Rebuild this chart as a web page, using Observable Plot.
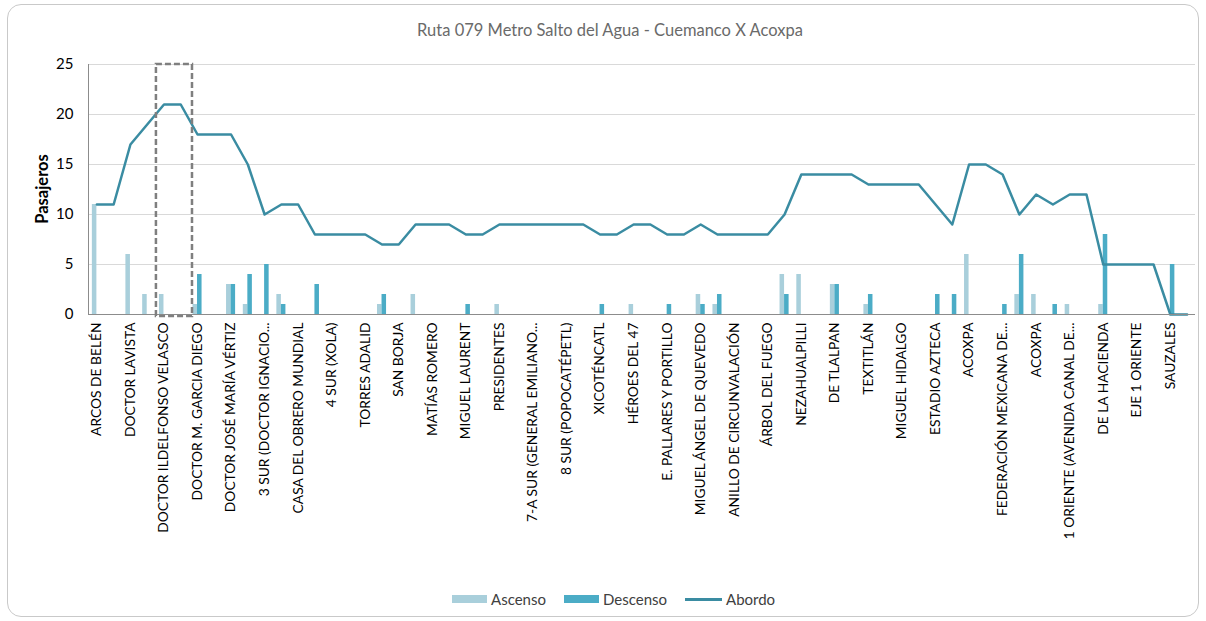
<!DOCTYPE html>
<html>
<head>
<meta charset="utf-8">
<script src="https://cdn.jsdelivr.net/npm/d3@7"></script>
<script src="https://cdn.jsdelivr.net/npm/@observablehq/plot@0.6"></script>
<style>
  body { margin: 0; width: 1206px; height: 621px; overflow: hidden; background: #fff; font-family: "Lato", "Open Sans", sans-serif; position: relative; }
  #frame { position: absolute; left: 7px; top: 4px; width: 1192px; height: 613px; border: 1px solid #c9c9c9; border-radius: 14px; box-sizing: border-box; }
  #title { position: absolute; top: 20px; left: 0; width: 1220px; text-align: center; font-size: 16.5px; color: #6a6a6a; }
  #chart { position: absolute; left: 0; top: 45px; }
  #ylabel { position: absolute; left: 42px; top: 189px; transform: translate(-50%, -50%) rotate(-90deg); font-size: 16.5px; font-weight: bold; color: #000; white-space: nowrap; }
  #legend { position: absolute; left: 452px; top: 590px; display: flex; align-items: center; font-size: 15px; color: #404040; }
  .sw { display: inline-block; width: 35px; height: 8px; margin-right: 4px; }
  .ln { display: inline-block; width: 37px; height: 3px; margin-right: 4px; }
  .item { display: flex; align-items: center; margin-right: 18px; }
  #chart svg [aria-label^="y-axis"] text { font-size: 15px; }
</style>
</head>
<body>
<div id="frame"></div>
<div id="title">Ruta 079 Metro Salto del Agua - Cuemanco X Acoxpa</div>
<div id="chart"></div>
<div id="ylabel">Pasajeros</div>
<div id="legend"></div>
<script>
// Stop labels shown on the axis (every other stop is labelled)
const tickLabels = [
  "ARCOS DE BELÉN", "DOCTOR LAVISTA", "DOCTOR ILDELFONSO VELASCO", "DOCTOR M. GARCIA DIEGO",
  "DOCTOR JOSÉ MARÍA VÉRTIZ", "3 SUR (DOCTOR IGNACIO...", "CASA DEL OBRERO MUNDIAL", "4 SUR (XOLA)",
  "TORRES ADALID", "SAN BORJA", "MATÍAS ROMERO", "MIGUEL LAURENT", "PRESIDENTES",
  "7-A SUR (GENERAL EMILIANO...", "8 SUR (POPOCATÉPETL)", "XICOTÉNCATL", "HÉROES DEL 47",
  "E. PALLARES Y PORTILLO", "MIGUEL ÁNGEL DE QUEVEDO", "ANILLO DE CIRCUNVALACIÓN", "ÁRBOL DEL FUEGO",
  "NEZAHUALPILLI", "DE TLALPAN", "TEXTITLÁN", "MIGUEL HIDALGO", "ESTADIO AZTECA", "ACOXPA",
  "FEDERACIÓN MEXICANA DE...", "ACOXPA", "1 ORIENTE (AVENIDA CANAL DE...", "DE LA HACIENDA",
  "EJE 1 ORIENTE", "SAUZALES"
];
// Stop index (0..65), one per stop along the route
const stops = d3.range(66);
const ascenso = [11,0,6,2,2,0,1,0,3,1,0,2,0,0,0,0,0,1,0,2,0,0,0,0,1,0,0,0,0,0,0,0,1,0,0,0,2,1,0,0,0,4,4,0,3,0,1,0,0,0,0,0,6,0,0,2,2,0,1,0,1,0,0,0,0,0];
const descenso = [0,0,0,0,0,0,4,0,3,4,5,1,0,3,0,0,0,2,0,0,0,0,1,0,0,0,0,0,0,0,1,0,0,0,1,0,1,2,0,0,0,2,0,0,3,0,2,0,0,0,2,2,0,0,1,6,0,1,0,0,8,0,0,0,5,0];
const abordo = [11,11,17,19,21,21,18,18,18,15,10,11,11,8,8,8,8,7,7,9,9,9,8,8,9,9,9,9,9,9,8,8,9,9,8,8,9,8,8,8,8,10,14,14,14,14,13,13,13,13,11,9,15,15,14,10,12,11,12,12,5,5,5,5,0,0];
const highlight = [{from: 4, to: 5}];
const yTicks = [0, 5, 10, 15, 20, 25];

const colors = {asc: "#a9cfdb", desc: "#4bacc6", line: "#3a8ca2", grid: "#d9d9d9", axis: "#8c8c8c", box: "#7f7f7f"};

const data = stops.map(i => ({i, asc: ascenso[i], desc: descenso[i], abordo: abordo[i]}));

const chart = Plot.plot({
  width: 1206,
  height: 545,
  marginLeft: 88,
  marginRight: 11,
  marginTop: 19,
  marginBottom: 276,
  style: {fontFamily: "Lato, 'Open Sans', sans-serif", fontSize: "13.8px", color: "#000", background: "transparent"},
  x: {
    type: "linear",
    domain: [-0.5, 65.5],
    ticks: d3.range(0, 66, 2),
    tickFormat: i => tickLabels[i / 2],
    tickRotate: -90,
    tickSize: 0,
    tickPadding: 8,
    label: null
  },
  y: {
    domain: [0, 25],
    ticks: yTicks,
    tickSize: 0,
    tickPadding: 15,
    label: null
  },
  marks: [
    Plot.ruleY(yTicks.filter(d => d > 0), {stroke: colors.grid, strokeWidth: 1}),
    Plot.rectY(data, {x1: d => d.i - 0.27, x2: d => d.i, y: "asc", fill: colors.asc}),
    Plot.rectY(data, {x1: d => d.i, x2: d => d.i + 0.27, y: "desc", fill: colors.desc}),
    Plot.line(data, {x: "i", y: "abordo", stroke: colors.line, strokeWidth: 2.5}),
    Plot.ruleY([0], {stroke: colors.axis, strokeWidth: 1}),
    Plot.ruleX([-0.5], {y1: 0, y2: 25, stroke: colors.axis, strokeWidth: 1}),
    Plot.rect(highlight, {x1: d => d.from - 0.45, x2: d => d.to + 0.7, y1: -0.2, y2: 25, fill: "none", stroke: colors.box, strokeWidth: 2.5, strokeDasharray: "6,3"})
  ]
});
document.getElementById("chart").appendChild(chart);

const legend = document.getElementById("legend");
[["Ascenso", "sw", colors.asc], ["Descenso", "sw", colors.desc], ["Abordo", "ln", colors.line]].forEach(([name, cls, c]) => {
  const it = document.createElement("div");
  it.className = "item";
  const s = document.createElement("span");
  s.className = cls;
  s.style.background = c;
  it.appendChild(s);
  const t = document.createElement("span");
  t.textContent = name;
  it.appendChild(t);
  legend.appendChild(it);
});
</script>
</body>
</html>
